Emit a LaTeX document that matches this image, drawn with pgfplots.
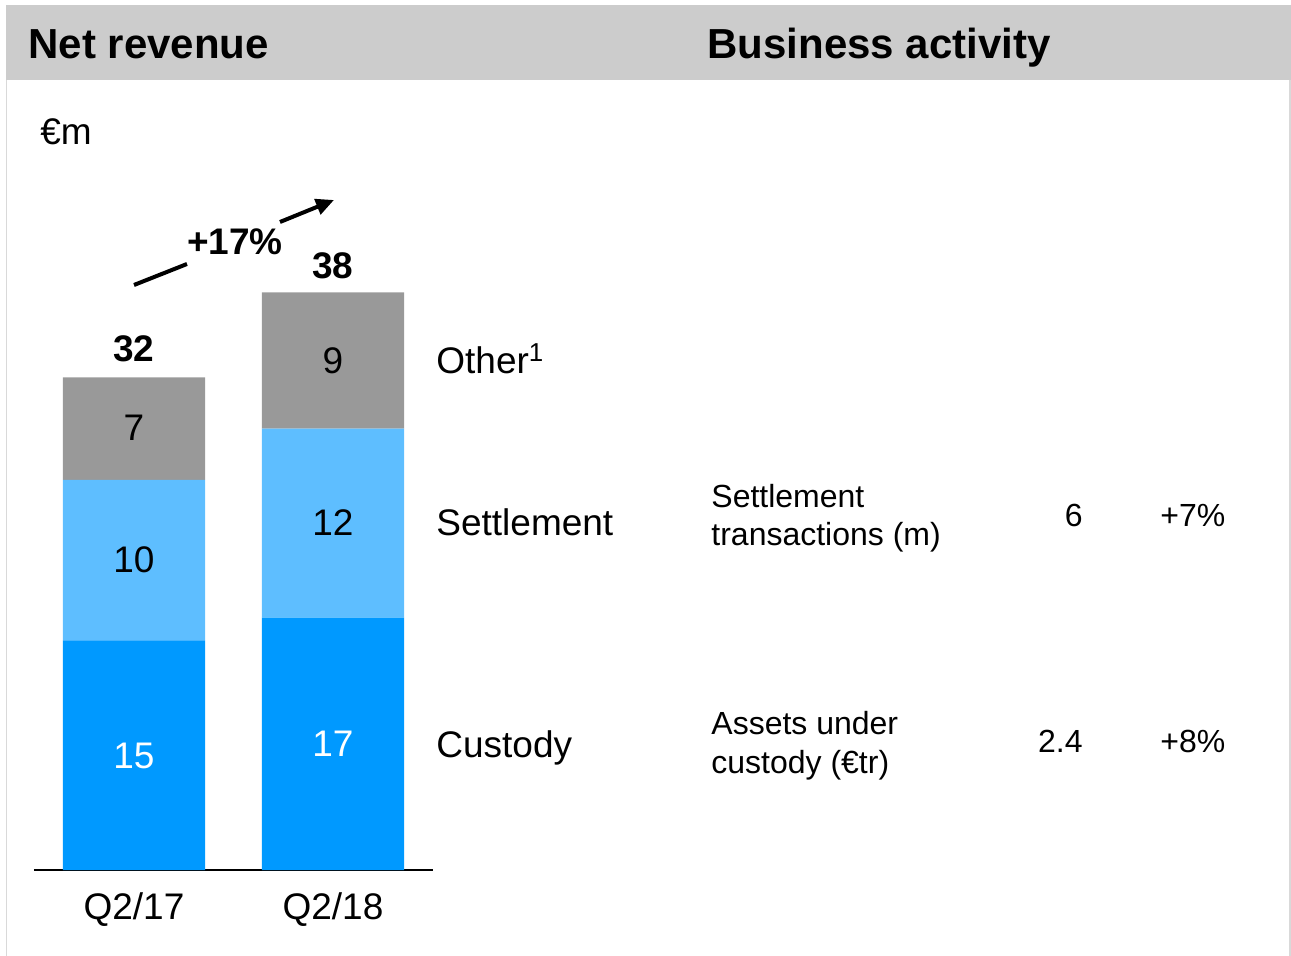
\documentclass[border=0pt]{standalone}
\usepackage{fontspec}
\setmainfont{Liberation Sans}
\usepackage{pgfplots}
\pgfplotsset{compat=1.18}
\usetikzlibrary{arrows.meta}

\definecolor{custody}{HTML}{0099FF}
\definecolor{settle}{HTML}{5EBEFF}
\definecolor{other}{HTML}{999999}
\definecolor{header}{HTML}{CCCCCC}
\definecolor{frame}{HTML}{D9D9D9}

\newcommand{\fbig}{\fontsize{18.5}{22}\selectfont}
\newcommand{\fsmall}{\fontsize{16}{19}\selectfont}
\newcommand{\fhead}{\fontsize{21}{25}\selectfont\bfseries}

\begin{document}
\begin{tikzpicture}
% stacked bars, 1px = 0.5pt; axis line starts at px (34,870)
\begin{axis}[
    at={(17pt,-435pt)}, anchor=south west,
    scale only axis, width=199.5pt, height=306pt,
    xmin=-0.5025, xmax=1.5025, ymin=0, ymax=40,
    ybar stacked, bar width=0.7136,
    axis y line=none,
    axis x line*=bottom,
    x axis line style={black, line width=0.8pt, -},
    xtick={0,1}, xticklabels={Q2/17,Q2/18},
    major tick length=0pt,
    xticklabel style={font=\fbig, anchor=base, yshift=-24.5pt},
    clip=false,
]
% custody
\addplot[draw=none, fill=custody] coordinates {(0,15.0) (1,16.5)};
% settlement
\addplot[draw=none, fill=settle] coordinates {(0,10.5) (1,12.35)};
% other
\addplot[draw=none, fill=other] coordinates {(0,6.7) (1,8.9)};
\end{axis}

\begin{scope}[x=0.5pt,y=-0.5pt]
\useasboundingbox (0,0) rectangle (1291,956);
% frame and header band
\draw[frame, line width=0.8pt] (6.5,5) -- (6.5,960);
\draw[frame, line width=0.8pt] (1290,5) -- (1290,960);
\fill[header] (6,5) rectangle (1291,80);
\node[anchor=base west, inner sep=0, font=\fhead] at (28,59) {Net revenue};
\node[anchor=base west, inner sep=0, font=\fhead] at (707,59) {Business activity};
\node[anchor=base west, inner sep=0, font=\fbig] at (40,145) {€m};

% segment values
\node[font=\fbig, white, inner sep=0] at (134,756) {15};
\node[font=\fbig, white, inner sep=0] at (333,744) {17};
\node[font=\fbig, inner sep=0] at (134,560) {10};
\node[font=\fbig, inner sep=0] at (333,523) {12};
\node[font=\fbig, inner sep=0] at (134,428) {7};
\node[font=\fbig, inner sep=0] at (333,361) {9};

% totals and growth arrow
\node[font=\fbig\bfseries, inner sep=0] at (134,349) {32};
\node[font=\fbig\bfseries, inner sep=0] at (333,266) {38};
\draw[line width=2pt] (134,285) -- (187,264);
\draw[line width=2pt, -{Triangle[length=9pt,width=8pt]}] (280,222) -- (334,200);
\node[font=\fbig\bfseries, inner sep=0] at (235,242) {+17\%};

% segment names
\node[anchor=base west, inner sep=0, font=\fbig] at (436,374) {Other\textsuperscript{1}};
\node[anchor=base west, inner sep=0, font=\fbig] at (436,536) {Settlement};
\node[anchor=base west, inner sep=0, font=\fbig] at (436,757) {Custody};

% business activity
\node[anchor=base west, inner sep=0, font=\fsmall] at (711,508) {Settlement};
\node[anchor=base west, inner sep=0, font=\fsmall] at (711,546) {transactions (m)};
\node[anchor=base east, inner sep=0, font=\fsmall] at (1083,527) {6};
\node[anchor=base west, inner sep=0, font=\fsmall] at (1160,527) {+7\%};
\node[anchor=base west, inner sep=0, font=\fsmall] at (711,734) {Assets under};
\node[anchor=base west, inner sep=0, font=\fsmall] at (711,773) {custody (€tr)};
\node[anchor=base east, inner sep=0, font=\fsmall] at (1083,753) {2.4};
\node[anchor=base west, inner sep=0, font=\fsmall] at (1160,753) {+8\%};
\end{scope}
\end{tikzpicture}
\end{document}
